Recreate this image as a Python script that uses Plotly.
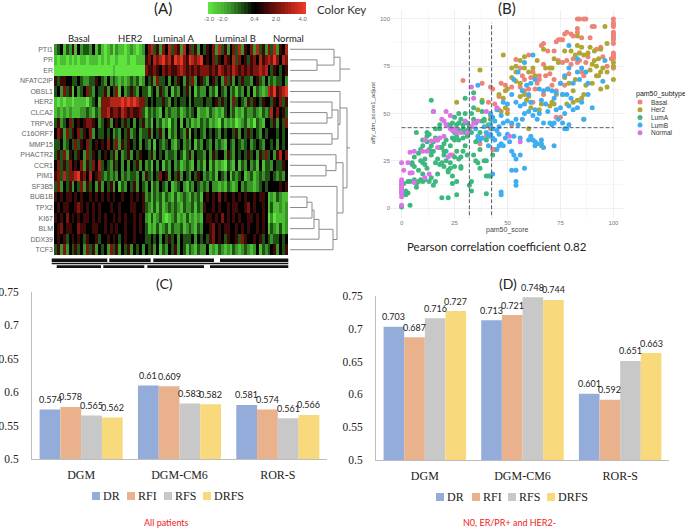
import plotly.graph_objects as go

W, H = 685, 529

# ---------- panel A data ----------
GENES = ["PTI1","PR","ER","NFATC2IP","OBSL1","HER2","CLCA2","TRPV6","C16ORF7","MMP15",
         "PHACTR2","CCR1","PIM1","SF3B5","BUB1B","TPX2","KI67","BLM","DDX39","TCF3"]
GROUP_LABELS = ["Basal","HER2","Luminal A","Luminal B","Normal"]
LEVEL_VALUES = [-3.0,-2.2,-1.4,-0.6,0.4,1.3,2.2,3.1,4.0]
# each row: estimated colour level per column, blocks Basal|HER2|LumA|LumB|Normal
ROW_PTI1    = "2341325142332413"+"101202110121012"+"46735264736527463524"+"3546273524637254627352"+"6372547"
ROW_PR      = "1011010101101110"+"101001000100111"+"56476786758786587678"+"4546354654736453564756"+"7686476"
ROW_ER      = "0000000000000000"+"000010000000000"+"65565465655676565656"+"6656576565765656566767"+"4354345"
ROW_NFATC2IP= "5355443343223354"+"324232121232312"+"43526334243542536245"+"3245342635243533245324"+"2323342"
ROW_OBSL1   = "3426351423463243"+"352436142353243"+"31342532413243524132"+"2423143242313242413212"+"7685678"
ROW_HER2    = "1010110111102341"+"666777787878766"+"34343353243433424333"+"4334535342634325354354"+"4354635"
ROW_CLCA2   = "1212121112232132"+"667566576565563"+"13232142322312323412"+"2132121342312132232132"+"3746453"
ROW_TRPV6   = "3523463454566542"+"345245435342435"+"23142312032414231213"+"2312103121201231203214"+"4352436"
ROW_C16ORF7 = "4652635463546243"+"343423243523423"+"35243524132432514343"+"2434324344352435343243"+"4443434"
ROW_MMP15   = "3342343635463454"+"546436253543424"+"32414323421342324132"+"4324232143243234234324"+"4342434"
ROW_PHACTR2 = "3536254354263543"+"454352423524354"+"43524342332431352433"+"2425344253243435342536"+"3425746"
ROW_CCR1    = "4635364546253647"+"343253424243524"+"23142413242312321423"+"1413121032141324231413"+"3243354"
ROW_PIM1    = "5637366785647456"+"323232423233242"+"53243645243524324354"+"2323143241323412312323"+"3432324"
ROW_SF3B5   = "3624352436253425"+"243524132435243"+"24132432412342132432"+"3242212132124232212343"+"4444545"
ROW_BUB1B   = "5454554545445454"+"545454454454545"+"23132313213123213231"+"4545464544545454454554"+"1213211"
ROW_TPX2    = "4545544565454545"+"444544544455445"+"32131312323213223132"+"5445454454554456454454"+"1311212"
ROW_KI67    = "5454645454554545"+"454454545445454"+"21312310123121312121"+"4554546454545445545454"+"0201112"
ROW_BLM     = "4564554465544554"+"454545445445454"+"31213123132231232132"+"4456454554454545445454"+"1321312"
ROW_DDX39   = "4545345454354453"+"445454345445444"+"33434243534243334243"+"4356454354453654454534"+"3233434"
ROW_TCF3    = "3526243534263524"+"342635243524342"+"43524132435243132132"+"2412132121321232124132"+"3452435"
HEAT_ROWS = [ROW_PTI1,ROW_PR,ROW_ER,ROW_NFATC2IP,ROW_OBSL1,ROW_HER2,ROW_CLCA2,ROW_TRPV6,ROW_C16ORF7,ROW_MMP15,
             ROW_PHACTR2,ROW_CCR1,ROW_PIM1,ROW_SF3B5,ROW_BUB1B,ROW_TPX2,ROW_KI67,ROW_BLM,ROW_DDX39,ROW_TCF3]
KEY_VALUES = [-3,-2.75,-2.5,-2.25,-2,-1.75,-1.5,-1.25,-1,-0.75,-0.5,-0.25,0,0.25,0.5,0.75,1,1.25,1.5,1.75,2,2.25,2.5,2.75,3,3.25,3.5,3.75,4,4.25]
KEY_TICKS = [-3.0,-2.0,0.4,2.0,4.0]
KEY_TICKTEXT = ["-3.0","-2.0","0.4","2.0","4.0"]

# dendrogram merges: (child, child, height); child >= 0 is a row, child < 0 is merge -(i+1)
LEAF_H = 290
DENDRO = [
    (1,2,317),(0,-1,334),(-2,3,340),
    (6,7,327),(5,-4,332),(8,9,332),(-5,-6,338),(4,-7,340),
    (11,12,326),(10,-9,336),
    (14,15,307),(-11,16,312),(-12,17,314),(-13,18,319),(-14,19,333),(13,-15,337),
    (-10,-16,343),(-8,-17,347),
]
DENDRO_ROOTS = [-3,-18]
DENDRO_TOP = 350

# ---------- panel B data ----------
SUBTYPES = ["Basal","Her2","LumA","LumB","Normal"]
SUB_COLORS = ["#EE8378","#AFA633","#3DB87F","#3FAEF0","#DC73E6"]
PTS_BASAL = [(29,67.5),(38,66),(41,56),(42,64),(43,63),(44,55),(46,52),(46,59),(47,66),(49,65),(50,52),(52,44),(42,42),(43,31),(44,31),(40,38),(37,34),(24,28),
 (52,64),(54,78.5),(56,64),(58,62),(57,70),(60,63),(60,81),(62,72),(62,56),(64,66),(65,68),(66,86),(67,87),(67,76),(68,70),(69,83),(70,71),(72,68),(72,83),(73,88),(74,89),(75,89),(76,89),(77,92),(78,93),(80,92),(81,91),(83,100),(84,100),(86,100),(87,100),(83,95),(83,93),(85,90),(84,82),(74,78),(76,77),(78,78),(79,71),(80,76),(81,79),(83,77),(84,78),(85,72),(86,70),(87,77),(88,80),(90,96),(91,96),(89,90),(92,84),(94,85),(95,80),(97,75),(99,79),(100,80),(100,100),(100,98),(100,97),(100,96),(100,93),(100,92),(100,91),(100,90),(100,89),(100,87),(100,82),(100,81),(100,79),(100,74),(75,48),(73,48),(76,60),(67,60),(71,65),(73,62),(77,65),(65,70),(69,63),(61,69),(63,63),(58,68),(56,74)]
PTS_HER2 = [(26,56),(37,73),(48,81),(50,63),(49,62),(46,60),(48,58),(50,50),(49,53),(47,51),(36,52),(39,46),(42,49),(38,57),(52,74),(54,72),(54,75),(56,78),(58,80),(52,69),(54,67),(56,66),(58,74),(60,72),(62,74),(63,70),(58,60),(60,59),(56,59),(59,57),(61,53),(60,42),(66,33),(65,52),(66,55),(70,54),(71,56),(73,60),(77,69),(68,74),(70,74),(71,74),(72,79),(74,77),(67,84),(64,78),(77,83),(80,83),(82,81),(84,82),(86,81),(85,85),(83,91),(83,86),(88,82),(89,85),(91,83),(91,78),(90,76),(89,73),(92,75),(94,72),(93,79),(97,87),(96,96),(94,84),(95,74),(97,72),(100,77),(100,75),(100,68),(97,64),(94,63),(92,70),(93,70),(90,66),(87,65),(86,60),(85,58),(81,62),(82,68),(81,56),(83,57),(86,47),(78,55),(72,55),(75,66),(79,66)]
PTS_LUMA = [(0,0.5),(4,1.5),(0,8),(1,8),(2,7),(3,8),(2,9),(1,13),(4,14),(5,24),(5,23),(6,27),(6,15),(7,13),(7,11),(8,14),(8,20),(8,29),(7,40),(9,31),(9,25),(10,33),(10,24),(10,18),(10,14),(11,23),(11,26),(12,35),(12,40),(12,38),(13,39),(14,33),(14,30),(14,28),(14,16),(15,12),(13,14),(14,57),(15,51),(15,30),(16,24),(16,42),(16,14),(17,26),(17,18),(18,32),(18,44),(18,23),(19,5.5),(19,24),(20,34),(20,30),(20,22),(20,28),(21,36),(21,25),(22,5.5),(22,19),(22,20),(23,24),(23,33),(24,13),(24,17),(24,37),(24,45),(25,22),(25,36),(26,7),(26,38),(26,44),(26,30),(27,36),(27,45),(27,50),(28,21),(28,22),(28,27),(29,37),(29,44),(30,40),(30,50),(30,58),(30,33),(31,38),(31,41),(31,28),(32,43),(32,12),(32,42),(33,9),(33,40),(33,14),(34,61),(34,53),(34,28),(34,47),(35,25),(35,35),(36,24),(36,36),(37,31),(37,21),(38,51),(38,56),(39,47),(39,25),(40,25),(40,7.5),(40,17),(41,17),(41,44),(42,17),(42,47),(43,28),(25,27),(27,26),(26,14),(23,43),(25,48),(28,47),(29,30),(22,44),(18,42),(16,37),(9,15),(11,15),(3,14),(10,36),(6,22),(12,21),(13,31),(15,35),(17,36),(19,32),(21,30),(23,21),(25,40),(27,41),(29,42),(31,45),(33,50),(35,45),(38,46),(37,40),(40,36)]
PTS_LUMB = [(47,8.5),(47,7),(54,14),(54,12),(52,20),(54,20),(58,21),(43,18),(45,31),(46,33),(48,33),(49,37),(50,39),(51,35),(52,30),(53,28),(54,26),(56,28),(53,38),(56,37),(42,39),(43,37),(44,36),(41,33),(46,39),(47,34),(60,36),(62,36),(63,33),(64,34),(66,36),(66,34),(67,32),(72,33),(63,35),(61,38),(48,45),(46,43),(44,46),(43,48),(42,50),(45,52),(47,49),(50,46),(52,45),(54,47),(55,44),(57,47),(58,50),(60,51),(62,49),(64,47),(65,50),(67,45),(70,45),(71,44),(72,45),(74,47),(77,42),(78,42),(79,44),(75,53),(77,50),(79,54),(81,52),(83,53),(85,56),(88,60),(90,53),(86,47),(76,45),(73,52),(69,51),(63,52),(61,56),(58,55),(56,54),(54,56),(52,60),(36,65),(48,56),(50,55),(57,62),(59,65),(61,66),(63,68),(65,63),(67,62),(69,63),(71,62),(73,61),(75,66),(77,70),(79,74),(81,66),(83,72),(85,74),(87,72),(83,79),(79,86),(62,81),(58,77),(53,68),(55,72),(95,67),(96,78),(88,66),(84,68),(76,60),(72,58),(78,60),(80,58),(68,55),(66,57),(60,60),(35,42),(37,36),(39,43),(36,38),(40,40),(43,42),(45,41),(42,44),(38,37),(41,38)]
PTS_NORMAL = [(0,24),(1,20),(0,15),(0,14),(0,13),(0,12),(0,11),(0,10),(0,9),(0,6),(0,1.5),(0,8),(3,24),(4,29.5),(4,18.5),(5,18.7),(6,30),(6,13.5),(10,30),(11,16),(12,30),(13,18),(11,36),(14,35.5),(15,51),(16,36),(17,36),(18,37),(19,47),(20,46),(21,44),(21,51),(23,42),(23,49),(25,42),(26,40),(22,27),(23,28),(24,41),(33,64),(34,58),(34,45),(36,46),(40,51),(33,43),(31,40),(28,40),(45,53),(51,38),(56,35),(30,46),(20,38),(17,32)]
CUT_X = [32,42.5]
CUT_Y = 42.5

# ---------- panels C, D data ----------
MODELS = ["DGM","DGM-CM6","ROR-S"]
ENDPOINTS = ["DR","RFI","RFS","DRFS"]
BAR_COLORS = ["#94ACDA","#EAB18D","#C8C8C8","#F8D97C"]
C_DR, C_RFI, C_RFS, C_DRFS = [0.574,0.61,0.581],[0.578,0.609,0.574],[0.565,0.583,0.561],[0.562,0.582,0.566]
D_DR, D_RFI, D_RFS, D_DRFS = [0.703,0.713,0.601],[0.687,0.721,0.592],[0.716,0.748,0.651],[0.727,0.744,0.663]
BAR_TICKS = [0.5,0.55,0.6,0.65,0.7,0.75]
BAR_TICKTEXT = ["0.5","0.55","0.6","0.65","0.7","0.75"]

SANS = "Lato"
SERIF = "Liberation Serif"
HELV = "Liberation Sans"

def dx(a, b): return [a/W, b/W]
def dy(t, b): return [1-b/H, 1-t/H]
def px(x): return x/W
def py(y): return 1-y/H

fig = go.Figure()
annots, shapes = [], []

def label(x, y, text, size, color="#222", font=SANS, xanchor="center", angle=0):
    annots.append(dict(xref="paper", yref="paper", x=px(x), y=py(y), text=text, showarrow=False,
                       xanchor=xanchor, yanchor="middle", textangle=angle,
                       font=dict(size=size, color=color, family=font)))

# ---------- panel A ----------
assert all(len(r) == 80 for r in HEAT_ROWS), [len(r) for r in HEAT_ROWS]
z = [[LEVEL_VALUES[int(c)] for c in r] for r in HEAT_ROWS]
scale = [[0,"#5FE43F"],[0.2,"#3FA02C"],[0.472,"#000000"],[0.75,"#8A1710"],[1,"#F23A26"]]
fig.add_trace(go.Heatmap(z=z, y=GENES, colorscale=scale, zmin=-3, zmax=4.2, xaxis="x", yaxis="y",
                         hoverinfo="skip", showscale=False))
fig.add_trace(go.Heatmap(z=[KEY_VALUES], x=KEY_VALUES, colorscale=scale, zmin=-3, zmax=4.2, xaxis="x6", yaxis="y6",
                         hoverinfo="skip", showscale=False))

# dendrogram from the merge table
pos, dx_path, dy_path = {}, [], []
def node(c):
    return (c, LEAF_H) if c >= 0 else pos[-c-1]
for i, (a, b, h) in enumerate(DENDRO):
    ya, ha = node(a); yb, hb = node(b)
    dx_path += [ha, h, h, hb, None]
    dy_path += [ya, ya, yb, yb, None]
    pos[i] = ((ya+yb)/2, h)
for r in DENDRO_ROOTS:
    y, h = pos[-r-1]
    dx_path += [h, DENDRO_TOP, None]
    dy_path += [y, y, None]
fig.add_trace(go.Scatter(x=dx_path, y=dy_path, mode="lines", line=dict(color="#8a8a8a", width=1),
                         xaxis="x2", yaxis="y2", hoverinfo="skip", showlegend=False))

# ---------- panel B ----------
for name, color, pts in zip(SUBTYPES, SUB_COLORS, [PTS_BASAL,PTS_HER2,PTS_LUMA,PTS_LUMB,PTS_NORMAL]):
    fig.add_trace(go.Scatter(x=[p[0] for p in pts], y=[p[1] for p in pts], mode="markers", name=name,
                             marker=dict(color=color, size=5, line=dict(width=0)),
                             xaxis="x3", yaxis="y3", showlegend=False))
CUT_STYLE = dict(color="#4f5a70", width=1, dash="4px,2px")
for cx in CUT_X:
    fig.add_trace(go.Scatter(x=[cx,cx], y=[-7,98], mode="lines", line=CUT_STYLE, xaxis="x3", yaxis="y3",
                             showlegend=False, hoverinfo="skip", cliponaxis=False))
fig.add_trace(go.Scatter(x=[0,100], y=[CUT_Y,CUT_Y], mode="lines", line=CUT_STYLE, xaxis="x3", yaxis="y3",
                         showlegend=False, hoverinfo="skip"))

# ---------- panels C, D ----------
GAP = 0.155
BW = (1-GAP)/4
for (xa, ya, series) in [("x4","y4",[C_DR,C_RFI,C_RFS,C_DRFS]), ("x5","y5",[D_DR,D_RFI,D_RFS,D_DRFS])]:
    for j, (name, color, vals) in enumerate(zip(ENDPOINTS, BAR_COLORS, series)):
        fig.add_trace(go.Bar(x=MODELS, y=vals, name=name, marker=dict(color=color, line=dict(width=0)),
                             xaxis=xa, yaxis=ya, showlegend=False))
        for i, v in enumerate(vals):
            annots.append(dict(xref=xa, yref=ya, x=i+(j-1.5)*BW, y=v, text=f"{v:g}", showarrow=False,
                               yanchor="middle", yshift=10, xanchor="center",
                               font=dict(size=9, color="#222", family=SANS)))

# ---------- text ----------
label(163, 8, "(A)", 15)
label(315, 10, "Color Key", 11.5, color="#333", xanchor="left")
label(507, 8, "(B)", 15)
label(164, 283, "(C)", 14)
label(508, 283, "(D)", 14)
label(497, 246, "Pearson correlation coefficient 0.82", 11.5)
label(166, 522, "All patients", 9, color="#F02020")
label(509, 522, "N0, ER/PR+ and HER2-", 9, color="#F02020")
for g, gx in zip(GROUP_LABELS, [79,130,174,235,288]):
    label(gx, 38, g, 9.5)

# scatter legend
label(634, 94, "pam50_subtype", 7, color="#222", font=HELV, xanchor="left")
for k, (name, color) in enumerate(zip(SUBTYPES, SUB_COLORS)):
    ly = 102+k*7.7
    shapes.append(dict(type="circle", xref="paper", yref="paper", x0=px(637.5), x1=px(642.5), y0=py(ly+2.5), y1=py(ly-2.5),
                       fillcolor=color, line=dict(width=0)))
    label(649, ly, name, 6.5, color="#333", font=HELV, xanchor="left")

# bar legends
for xs, ly in [([92,127,164,203], 496), ([436,472,508,547], 497)]:
    for sx, name, color in zip(xs, ENDPOINTS, BAR_COLORS):
        shapes.append(dict(type="rect", xref="paper", yref="paper", x0=px(sx), x1=px(sx+8), y0=py(ly+4), y1=py(ly-4),
                           fillcolor=color, line=dict(width=0)))
        label(sx+9, ly, name, 12, color="#222", font=SERIF, xanchor="left")

# black strips under the heatmap
for segs, t, b in [([(51.7,107.3),(109.3,150.7),(153.3,214),(220,288.3)],258.5,262),
                   ([(51.7,288.3)],262.7,264.3),
                   ([(56.7,101),(103.3,144.3),(147.3,204),(210,288.3)],265.3,268)]:
    for a, c in segs:
        shapes.append(dict(type="rect", xref="paper", yref="paper", x0=px(a), x1=px(c), y0=py(b), y1=py(t),
                           fillcolor="#111", line=dict(width=0)))

hide = dict(visible=False)
bar_x = dict(showgrid=False, zeroline=False, showline=True, linecolor="#bdbdbd", linewidth=1,
             ticks="outside", ticklen=5, tickcolor="rgba(0,0,0,0)",
             tickfont=dict(size=12, color="#222", family=SERIF))
bar_y = dict(range=[0.5,0.75], showgrid=False, zeroline=False, showline=True, linecolor="#bdbdbd", linewidth=1,
             tickmode="array", tickvals=BAR_TICKS, ticktext=BAR_TICKTEXT,
             ticks="outside", ticklen=10, tickcolor="rgba(0,0,0,0)",
             tickfont=dict(size=11.5, color="#222", family=SERIF))
grid_axis = dict(range=[-5,105], tickmode="array", tickvals=[0,25,50,75,100], ticktext=["0","25","50","75","100"],
                 showgrid=True, gridcolor="#efefef", gridwidth=1, zeroline=False, showline=False,
                 minor=dict(dtick=12.5, showgrid=True, gridcolor="#f7f7f7", gridwidth=1),
                 tickfont=dict(size=6, color="#777", family=HELV), ticks="")

fig.update_layout(
    width=W, height=H, margin=dict(l=0, r=0, t=0, b=0, pad=0, autoexpand=False), autosize=False,
    paper_bgcolor="white", plot_bgcolor="white", showlegend=False,
    barmode="group", bargap=GAP, bargroupgap=0,
    annotations=annots, shapes=shapes,
    xaxis=dict(domain=dx(54,288), **hide, anchor="y"),
    yaxis=dict(domain=dy(44,255), autorange="reversed", tickmode="array", tickvals=GENES, ticktext=GENES,
               showgrid=False, zeroline=False, ticks="", anchor="x", ticklen=0,
               tickfont=dict(size=7, color="#666", family=HELV)),
    xaxis2=dict(domain=dx(290,350), range=[290,350], **hide, anchor="y2"),
    yaxis2=dict(domain=dy(44,255), range=[19.5,-0.5], **hide, anchor="x2"),
    xaxis3=dict(domain=dx(391,624), anchor="y3", **grid_axis),
    yaxis3=dict(domain=dy(9.5,217.5), anchor="x3", **grid_axis),
    xaxis4=dict(domain=dx(32,327), anchor="y4", **bar_x),
    yaxis4=dict(domain=dy(292,459), anchor="x4", **bar_y),
    xaxis5=dict(domain=dx(376,669), anchor="y5", **bar_x),
    yaxis5=dict(domain=dy(296,460), anchor="x5", **bar_y),
    xaxis6=dict(domain=dx(208,306), anchor="y6", range=[-3.07,4.24], tickmode="array", tickvals=KEY_TICKS, ticktext=KEY_TICKTEXT,
                tickangle=0, showgrid=False, zeroline=False, ticks="", ticklen=0,
                tickfont=dict(size=6, color="#666", family=HELV)),
    yaxis6=dict(domain=dy(2,14), anchor="x6", **hide),
)
label(507, 229.5, "pam50_score", 7, color="#444", font=HELV)
label(373, 113, "affy_dm_score1_adjust", 6, color="#444", font=HELV, angle=-90)
fig.update_layout(annotations=annots)

fig.write_html("out.html", config=dict(displayModeBar=False),
               post_script="document.body.style.margin='0';")
